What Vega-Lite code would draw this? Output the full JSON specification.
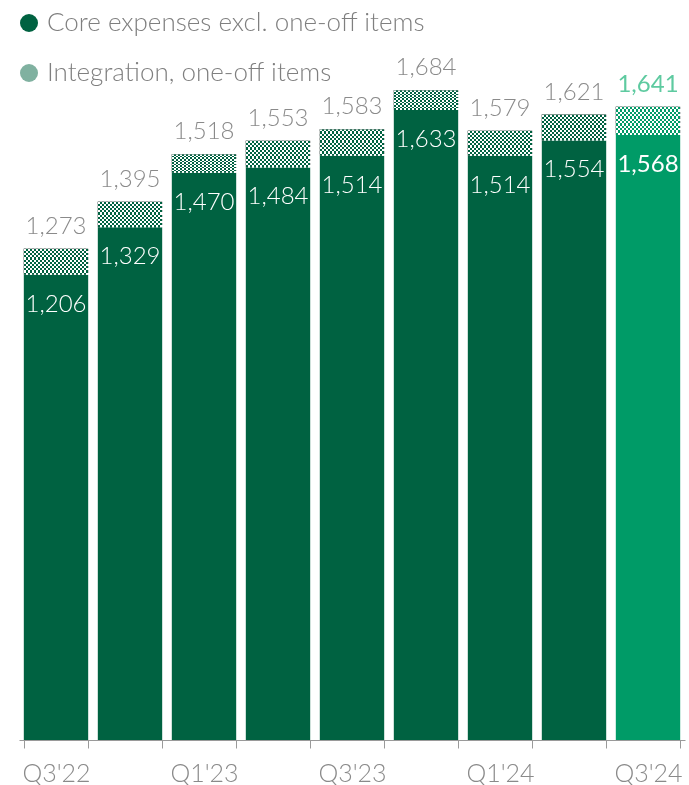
{
  "$schema": "https://vega.github.io/schema/vega-lite/v6.json",
  "width": 666,
  "height": 740,
  "autosize": {"type": "none"},
  "padding": {"left": 19, "top": 0, "right": 4, "bottom": 45},
  "background": "white",
  "config": {"view": {"stroke": null}, "font": "Lato"},
  "data": {
    "values": [
      {"q": "Q3'22", "core": 1206, "total": 1273},
      {"q": "Q4'22", "core": 1329, "total": 1395},
      {"q": "Q1'23", "core": 1470, "total": 1518},
      {"q": "Q2'23", "core": 1484, "total": 1553},
      {"q": "Q3'23", "core": 1514, "total": 1583},
      {"q": "Q4'23", "core": 1633, "total": 1684},
      {"q": "Q1'24", "core": 1514, "total": 1579},
      {"q": "Q2'24", "core": 1554, "total": 1621},
      {"q": "Q3'24", "core": 1568, "total": 1641}
    ]
  },
  "encoding": {
    "x": {
      "field": "q",
      "type": "nominal",
      "sort": null,
      "scale": {"paddingInner": 0.13, "paddingOuter": 0.065},
      "axis": {
        "title": null,
        "labelAngle": 0,
        "labelFont": "Lato",
        "labelFontSize": 25,
        "labelFontWeight": 300,
        "labelColor": "#8a8a8a",
        "domainColor": "#9a9a9a",
        "tickColor": "#9a9a9a",
        "tickSize": 8,
        "tickBand": "extent",
        "labelBaseline": "alphabetic",
        "labelPadding": 33,
        "labelExpr": "slice(datum.label,0,2) == 'Q1' || slice(datum.label,0,2) == 'Q3' ? datum.label : ''"
      }
    }
  },
  "layer": [
    {
      "mark": {"type": "bar"},
      "encoding": {
        "y": {"field": "core", "type": "quantitative", "scale": {"domain": [0, 1918], "nice": false}, "axis": null},
        "color": {
          "condition": {"test": "datum.q === \"Q3'24\"", "value": "#009b67"},
          "datum": "Core expenses excl. one-off items",
          "type": "nominal",
          "scale": {
            "domain": ["Core expenses excl. one-off items", "Integration, one-off items"],
            "range": ["#006241", "#80b1a0"]
          },
          "legend": {
            "title": null,
            "orient": "none",
            "legendX": -3,
            "legendY": 10,
            "direction": "vertical",
            "symbolType": "circle",
            "symbolSize": 324,
            "symbolStrokeWidth": 0,
            "labelFont": "Lato",
            "labelFontSize": 26,
            "labelFontWeight": 300,
            "labelColor": "#7f7f7f",
            "labelOffset": 5,
            "labelLimit": 600,
            "rowPadding": 24,
            "padding": 0
          }
        }
      }
    },
    {
      "mark": {"type": "bar"},
      "encoding": {
        "y": {"field": "core", "type": "quantitative"},
        "y2": {"field": "total"},
        "color": {
          "condition": {
            "test": "true",
            "value": {
              "gradient": "linear", "x1": 0, "y1": 0, "x2": 1, "y2": 0,
              "stops": [
                {"offset": 0, "color": "#000000"},
                {"offset": 0.03125, "color": "#000000"}, {"offset": 0.03125, "color": "#ffffff"},
                {"offset": 0.0625, "color": "#ffffff"}, {"offset": 0.0625, "color": "#000000"},
                {"offset": 0.09375, "color": "#000000"}, {"offset": 0.09375, "color": "#ffffff"},
                {"offset": 0.125, "color": "#ffffff"}, {"offset": 0.125, "color": "#000000"},
                {"offset": 0.15625, "color": "#000000"}, {"offset": 0.15625, "color": "#ffffff"},
                {"offset": 0.1875, "color": "#ffffff"}, {"offset": 0.1875, "color": "#000000"},
                {"offset": 0.21875, "color": "#000000"}, {"offset": 0.21875, "color": "#ffffff"},
                {"offset": 0.25, "color": "#ffffff"}, {"offset": 0.25, "color": "#000000"},
                {"offset": 0.28125, "color": "#000000"}, {"offset": 0.28125, "color": "#ffffff"},
                {"offset": 0.3125, "color": "#ffffff"}, {"offset": 0.3125, "color": "#000000"},
                {"offset": 0.34375, "color": "#000000"}, {"offset": 0.34375, "color": "#ffffff"},
                {"offset": 0.375, "color": "#ffffff"}, {"offset": 0.375, "color": "#000000"},
                {"offset": 0.40625, "color": "#000000"}, {"offset": 0.40625, "color": "#ffffff"},
                {"offset": 0.4375, "color": "#ffffff"}, {"offset": 0.4375, "color": "#000000"},
                {"offset": 0.46875, "color": "#000000"}, {"offset": 0.46875, "color": "#ffffff"},
                {"offset": 0.5, "color": "#ffffff"}, {"offset": 0.5, "color": "#000000"},
                {"offset": 0.53125, "color": "#000000"}, {"offset": 0.53125, "color": "#ffffff"},
                {"offset": 0.5625, "color": "#ffffff"}, {"offset": 0.5625, "color": "#000000"},
                {"offset": 0.59375, "color": "#000000"}, {"offset": 0.59375, "color": "#ffffff"},
                {"offset": 0.625, "color": "#ffffff"}, {"offset": 0.625, "color": "#000000"},
                {"offset": 0.65625, "color": "#000000"}, {"offset": 0.65625, "color": "#ffffff"},
                {"offset": 0.6875, "color": "#ffffff"}, {"offset": 0.6875, "color": "#000000"},
                {"offset": 0.71875, "color": "#000000"}, {"offset": 0.71875, "color": "#ffffff"},
                {"offset": 0.75, "color": "#ffffff"}, {"offset": 0.75, "color": "#000000"},
                {"offset": 0.78125, "color": "#000000"}, {"offset": 0.78125, "color": "#ffffff"},
                {"offset": 0.8125, "color": "#ffffff"}, {"offset": 0.8125, "color": "#000000"},
                {"offset": 0.84375, "color": "#000000"}, {"offset": 0.84375, "color": "#ffffff"},
                {"offset": 0.875, "color": "#ffffff"}, {"offset": 0.875, "color": "#000000"},
                {"offset": 0.90625, "color": "#000000"}, {"offset": 0.90625, "color": "#ffffff"},
                {"offset": 0.9375, "color": "#ffffff"}, {"offset": 0.9375, "color": "#000000"},
                {"offset": 0.96875, "color": "#000000"}, {"offset": 0.96875, "color": "#ffffff"},
                {"offset": 1, "color": "#ffffff"}
              ]
            }
          },
          "datum": "Integration, one-off items",
          "type": "nominal"
        }
      }
    },
    {
      "mark": {
        "type": "bar",
        "blend": "difference",
        "fill": {
          "gradient": "linear", "x1": 0, "y1": 0, "x2": 0, "y2": 1,
          "stops": [
            {"offset": 0, "color": "#ffffff"},
            {"offset": 0.08333, "color": "#ffffff"}, {"offset": 0.08333, "color": "#000000"},
            {"offset": 0.16667, "color": "#000000"}, {"offset": 0.16667, "color": "#ffffff"},
            {"offset": 0.25, "color": "#ffffff"}, {"offset": 0.25, "color": "#000000"},
            {"offset": 0.33333, "color": "#000000"}, {"offset": 0.33333, "color": "#ffffff"},
            {"offset": 0.41667, "color": "#ffffff"}, {"offset": 0.41667, "color": "#000000"},
            {"offset": 0.5, "color": "#000000"}, {"offset": 0.5, "color": "#ffffff"},
            {"offset": 0.58333, "color": "#ffffff"}, {"offset": 0.58333, "color": "#000000"},
            {"offset": 0.66667, "color": "#000000"}, {"offset": 0.66667, "color": "#ffffff"},
            {"offset": 0.75, "color": "#ffffff"}, {"offset": 0.75, "color": "#000000"},
            {"offset": 0.83333, "color": "#000000"}, {"offset": 0.83333, "color": "#ffffff"},
            {"offset": 0.91667, "color": "#ffffff"}, {"offset": 0.91667, "color": "#000000"},
            {"offset": 1, "color": "#000000"}
          ]
        }
      },
      "encoding": {
        "y": {"field": "core", "type": "quantitative"},
        "y2": {"field": "total"}
      }
    },
    {
      "mark": {"type": "bar", "blend": "screen"},
      "encoding": {
        "y": {"field": "core", "type": "quantitative"},
        "y2": {"field": "total"},
        "color": {
          "condition": {"test": "datum.q === \"Q3'24\"", "value": "#009b67"},
          "value": "#006241"
        }
      }
    },
    {
      "transform": [{"filter": "datum.q !== \"Q3'24\""}],
      "mark": {"type": "text", "font": "Lato", "fontSize": 24, "fontWeight": 300, "baseline": "alphabetic", "dy": -15, "color": "#8a8a8a"},
      "encoding": {
        "y": {"field": "total", "type": "quantitative"},
        "text": {"field": "total", "type": "quantitative", "format": ",d"}
      }
    },
    {
      "transform": [{"filter": "datum.q === \"Q3'24\""}],
      "mark": {"type": "text", "font": "Lato", "fontSize": 24, "fontWeight": 400, "baseline": "alphabetic", "dy": -15, "color": "#5ecaa0"},
      "encoding": {
        "y": {"field": "total", "type": "quantitative"},
        "text": {"field": "total", "type": "quantitative", "format": ",d"}
      }
    },
    {
      "transform": [{"filter": "datum.q !== \"Q3'24\""}],
      "mark": {"type": "text", "font": "Lato", "fontSize": 24, "fontWeight": 300, "baseline": "alphabetic", "dy": 37, "color": "#ffffff"},
      "encoding": {
        "y": {"field": "core", "type": "quantitative"},
        "text": {"field": "core", "type": "quantitative", "format": ",d"}
      }
    },
    {
      "transform": [{"filter": "datum.q === \"Q3'24\""}],
      "mark": {"type": "text", "font": "Lato", "fontSize": 24, "fontWeight": 400, "baseline": "alphabetic", "dy": 37, "color": "#ffffff"},
      "encoding": {
        "y": {"field": "core", "type": "quantitative"},
        "text": {"field": "core", "type": "quantitative", "format": ",d"}
      }
    }
  ]
}
